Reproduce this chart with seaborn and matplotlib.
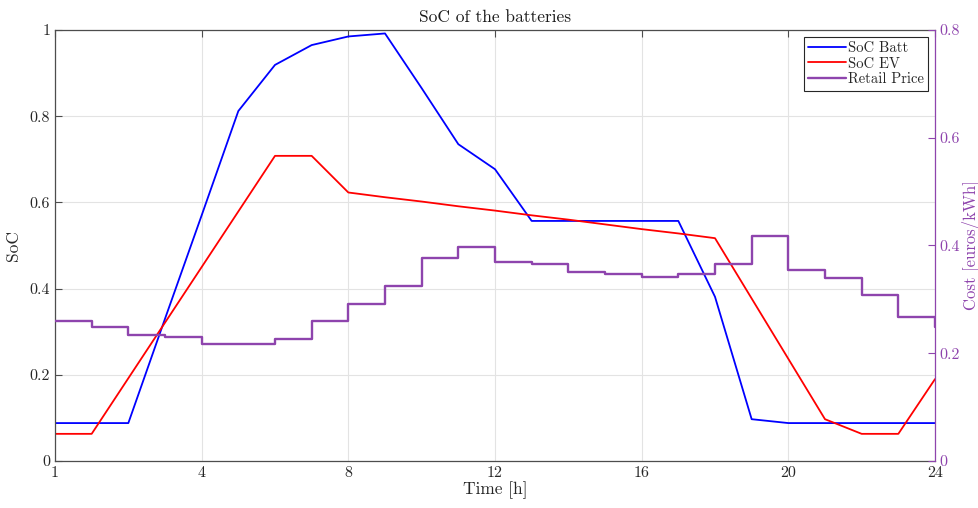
import matplotlib
matplotlib.use("Agg")
import matplotlib.pyplot as plt
import seaborn as sns
import numpy as np
import pandas as pd

hours = list(range(0, 25))
soc_batt = [0.088, 0.088, 0.088, 0.33, 0.57, 0.812, 0.919, 0.965, 0.985, 0.992,
            0.865, 0.735, 0.677, 0.557, 0.557, 0.557, 0.557, 0.557, 0.381, 0.097,
            0.088, 0.088, 0.088, 0.088, 0.088]
soc_ev = [0.063, 0.063, 0.192, 0.321, 0.45, 0.579, 0.708, 0.708, 0.623, 0.612,
          0.602, 0.591, 0.581, 0.570, 0.560, 0.549, 0.538, 0.528, 0.517, 0.377,
          0.237, 0.097, 0.063, 0.063, 0.19]
price = [0.260, 0.249, 0.2345, 0.2295, 0.218, 0.218, 0.2265, 0.260, 0.291, 0.324,
         0.376, 0.397, 0.369, 0.366, 0.350, 0.3465, 0.3415, 0.348, 0.366, 0.417,
         0.355, 0.340, 0.3075, 0.267, 0.249]
xtick_pos = [0, 4, 8, 12, 16, 20, 24]
xtick_labels = ["1", "4", "8", "12", "16", "20", "24"]

sns.set_style("white")
plt.rcParams["font.family"] = ["cmr10", "DejaVu Serif"]
plt.rcParams["mathtext.fontset"] = "cm"
plt.rcParams["axes.formatter.use_mathtext"] = True

purple = "#8E44AD"
spine_c = "#4d4d4d"
fig = plt.figure(figsize=(9.79, 5.08), dpi=100)
ax = fig.add_axes([55/979, (508-461)/508, (935-55)/979, (461-30)/508])
ax2 = ax.twinx()

df = pd.DataFrame({"h": hours, "batt": soc_batt, "ev": soc_ev, "price": price})
sns.lineplot(data=df, x="h", y="batt", ax=ax, color="#0000FF", lw=1.3, label="SoC Batt", legend=False)
sns.lineplot(data=df, x="h", y="ev", ax=ax, color="#FF0000", lw=1.3, label="SoC EV", legend=False)
sns.lineplot(data=df, x="h", y="price", ax=ax2, color=purple, lw=1.7, drawstyle="steps-post",
             label="Retail Price", legend=False)

ax.set_xlim(0, 24)
ax.set_ylim(0, 1)
ax2.set_ylim(0, 0.8)
ax.set_xticks(xtick_pos)
ax.set_xticklabels(xtick_labels)
ax.set_yticks([0, 0.2, 0.4, 0.6, 0.8, 1])
ax.set_yticklabels(["0", "0.2", "0.4", "0.6", "0.8", "1"])
ax2.set_yticks([0, 0.2, 0.4, 0.6, 0.8])
ax2.set_yticklabels(["0", "0.2", "0.4", "0.6", "0.8"])

ax.grid(True, color="#e3e3e3", lw=0.8)
ax.set_axisbelow(True)
for s in ["top", "bottom", "left"]:
    ax.spines[s].set_color(spine_c)
    ax.spines[s].set_linewidth(0.9)
ax.spines["right"].set_visible(False)
for s in ["top", "bottom", "left"]:
    ax2.spines[s].set_visible(False)
ax2.spines["right"].set_color(purple)
ax2.spines["right"].set_linewidth(0.9)

ax.tick_params(axis="both", direction="in", length=5, labelsize=11.5, colors=spine_c,
               labelcolor="#262626", width=0.8)
ax.tick_params(axis="x", top=True, pad=4)
ax2.tick_params(axis="y", direction="in", length=5, labelsize=11.5, colors=purple, width=0.8, pad=3)

ax.set_title("SoC of the batteries", fontsize=12.5, color="#1a1a1a", pad=6)
ax.set_xlabel("Time [h]", fontsize=12.5, color="#262626", labelpad=1)
ax.set_ylabel("SoC", fontsize=12.5, color="#262626", labelpad=6)
ax2.set_ylabel("Cost [euros/kWh]", fontsize=12, color=purple, labelpad=1)

h1, l1 = ax.get_legend_handles_labels()
h2, l2 = ax2.get_legend_handles_labels()
leg = ax2.legend(h1 + h2, l1 + l2, loc="upper right", fontsize=10.5, fancybox=False,
                 edgecolor="#262626", framealpha=1, borderpad=0.3, labelspacing=0.15,
                 handlelength=2.6, handletextpad=0.15, borderaxespad=0.45)
leg.get_frame().set_linewidth(0.8)

fig.savefig("out.png", dpi=100)
